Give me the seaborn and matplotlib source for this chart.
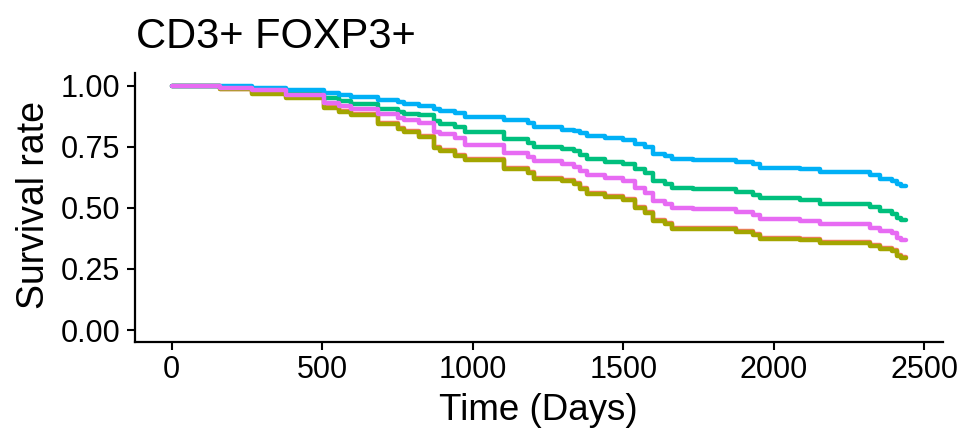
import matplotlib
matplotlib.use("Agg")
import matplotlib.pyplot as plt
import seaborn as sns
import pandas as pd

# ---- data ----
title = "CD3+ FOXP3+"
x_label = "Time (Days)"
y_label = "Survival rate"
x_ticks = [0, 500, 1000, 1500, 2000, 2500]
y_ticks = [0.00, 0.25, 0.50, 0.75, 1.00]

times = [0, 160, 265, 380, 505, 555, 595, 685, 750, 770,
         820, 870, 892, 942, 975, 1105, 1185, 1205, 1295, 1335,
         1357, 1378, 1440, 1500, 1540, 1572, 1600, 1640, 1662, 1732,
         1876, 1932, 1955, 2086, 2154, 2319, 2352, 2391, 2408, 2424, 2440]

surv_red = [1.0, 0.986, 0.970, 0.953, 0.913, 0.897, 0.882, 0.845, 0.827, 0.815,
            0.794, 0.747, 0.736, 0.715, 0.699, 0.661, 0.648, 0.623, 0.613, 0.600,
            0.580, 0.559, 0.550, 0.536, 0.505, 0.484, 0.450, 0.439, 0.419, 0.416,
            0.405, 0.392, 0.378, 0.373, 0.359, 0.348, 0.335, 0.326, 0.307, 0.297, 0.297]

surv_olive = [1.0, 0.984, 0.967, 0.950, 0.909, 0.893, 0.878, 0.841, 0.823, 0.811,
              0.790, 0.743, 0.732, 0.711, 0.695, 0.657, 0.644, 0.619, 0.609, 0.596,
              0.576, 0.555, 0.546, 0.532, 0.501, 0.480, 0.446, 0.435, 0.415, 0.412,
              0.401, 0.388, 0.374, 0.369, 0.355, 0.344, 0.331, 0.322, 0.303, 0.293, 0.293]

surv_green = [1.0, 0.993, 0.984, 0.972, 0.947, 0.936, 0.925, 0.902, 0.893, 0.884,
              0.878, 0.854, 0.841, 0.831, 0.810, 0.780, 0.766, 0.748, 0.739, 0.732,
              0.714, 0.700, 0.689, 0.678, 0.657, 0.644, 0.609, 0.598, 0.580, 0.576,
              0.565, 0.552, 0.539, 0.531, 0.517, 0.503, 0.487, 0.476, 0.460, 0.449, 0.449]

surv_blue = [1.0, 0.997, 0.988, 0.982, 0.970, 0.963, 0.954, 0.940, 0.932, 0.924,
             0.918, 0.905, 0.895, 0.888, 0.872, 0.861, 0.845, 0.831, 0.820, 0.813,
             0.805, 0.793, 0.784, 0.776, 0.759, 0.748, 0.722, 0.711, 0.698, 0.695,
             0.687, 0.678, 0.664, 0.657, 0.646, 0.633, 0.619, 0.609, 0.596, 0.589, 0.589]

surv_pink = [1.0, 0.990, 0.980, 0.963, 0.929, 0.916, 0.905, 0.882, 0.868, 0.858,
             0.848, 0.811, 0.800, 0.786, 0.756, 0.725, 0.709, 0.691, 0.678, 0.668,
             0.650, 0.633, 0.623, 0.609, 0.582, 0.562, 0.528, 0.517, 0.498, 0.494,
             0.483, 0.469, 0.456, 0.446, 0.435, 0.419, 0.405, 0.396, 0.378, 0.367, 0.367]

groups = ["G1", "G2", "G3", "G4", "G5"]
series = [surv_red, surv_olive, surv_green, surv_blue, surv_pink]
colors = ["#F8766D", "#A3A500", "#00BF7D", "#00B0F6", "#E76BF3"]

rows = []
for g, vals in zip(groups, series):
    for t, v in zip(times, vals, strict=True):
        rows.append({"time": t, "surv": v, "group": g})
df = pd.DataFrame(rows)

# ---- style ----
sns.set_style("ticks")
plt.rcParams["font.family"] = ["Liberation Sans", "DejaVu Sans"]

W, H = 960, 429
fig = plt.figure(figsize=(W / 100, H / 100), dpi=100)
ax = fig.add_axes([135 / W, 1 - 342.3 / H, (943 - 135) / W, (342.3 - 73.3) / H])

sns.lineplot(data=df, x="time", y="surv", hue="group", hue_order=groups,
             palette=dict(zip(groups, colors)), drawstyle="steps-post",
             estimator=None, errorbar=None, linewidth=3.2, legend=False, ax=ax)

t_max = 2440
ax.set_xlim(-0.05 * t_max, 1.05 * t_max)
ax.set_ylim(-0.05, 1.05)
ax.set_xticks(x_ticks)
ax.set_yticks(y_ticks)
ax.set_yticklabels([f"{v:.2f}" for v in y_ticks])
ax.set_xlabel("")
ax.set_ylabel("")

for side in ["top", "right"]:
    ax.spines[side].set_visible(False)
for side in ["left", "bottom"]:
    ax.spines[side].set_linewidth(1.6)
    ax.spines[side].set_color("black")

ax.tick_params(axis="both", which="major", length=5.5, width=1.5, color="black",
               labelsize=22, labelcolor="black")
ax.tick_params(axis="x", pad=4)
ax.tick_params(axis="y", pad=5)

fig.text(136 / W, 1 - 48.5 / H, title, fontsize=30, ha="left", va="baseline", color="black")
fig.text(538 / W, 1 - 420 / H, x_label, fontsize=26.5, ha="center", va="baseline", color="black")
fig.text(34 / W, 1 - 205 / H, y_label, fontsize=27, ha="center", va="center",
         rotation=90, color="black")

fig.savefig("out.png", dpi=100)
